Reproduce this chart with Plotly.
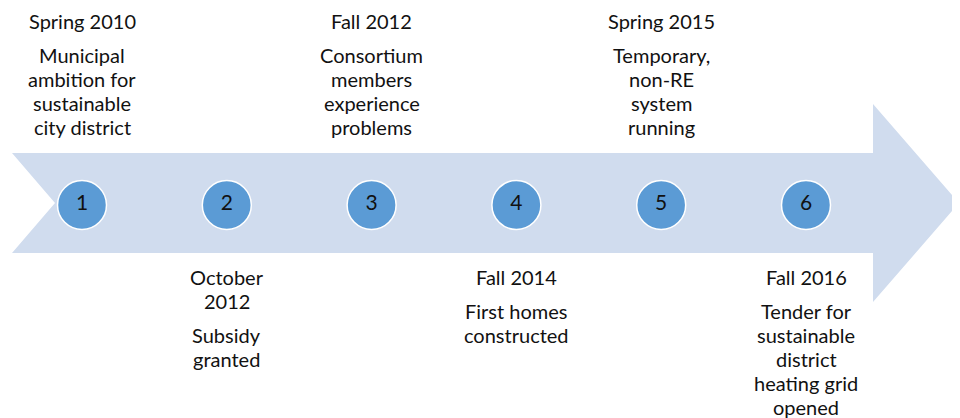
import plotly.graph_objects as go

# timeline data
steps = [1, 2, 3, 4, 5, 6]
dates = ["Spring 2010", "October<br>2012", "Fall 2012", "Fall 2014", "Spring 2015", "Fall 2016"]
events = [
    "Municipal<br>ambition for<br>sustainable<br>city district",
    "Subsidy<br>granted",
    "Consortium<br>members<br>experience<br>problems",
    "First homes<br>constructed",
    "Temporary,<br>non-RE<br>system<br>running",
    "Tender for<br>sustainable<br>district<br>heating grid<br>opened",
]
above = [True, False, True, False, True, False]

W, H = 960, 418
OFF = 8  # page body margin around the plot div
STEP_PX = 144.8
FIRST_PX = 82
x0 = 1 - FIRST_PX / STEP_PX
LINE = 24  # line height, px
GAP = 34   # date -> description


def sx(px):
    # pixel -> step units
    return x0 + px / STEP_PX


# arrow outline (pixels)
arrow = [(12, 153), (873, 153), (873, 104), (959, 203), (873, 302),
         (873, 253), (12, 253), (55, 203)]
path = "M " + " L ".join(f"{sx(x)},{y}" for x, y in arrow) + " Z"

font = "Lato, 'Open Sans', sans-serif"
fig = go.Figure()

fig.add_trace(go.Scatter(
    x=steps, y=[205] * len(steps), mode="markers+text",
    text=[str(s) for s in steps], textposition="middle center",
    textfont=dict(family=font, size=21, color="#111111"),
    marker=dict(size=49, color="#5B9BD5", line=dict(color="white", width=1.5)),
    hoverinfo="skip", showlegend=False,
))


def add_lines(x, y, lines):
    for i, ln in enumerate(lines):
        fig.add_annotation(x=x, y=y + i * LINE, text=ln, showarrow=False, yanchor="middle",
                           font=dict(family=font, size=20, color="#111111"))
    return y + (len(lines) - 1) * LINE


for s, d, e, up in zip(steps, dates, events, above):
    y = 21 if up else 277
    last = add_lines(s, y, d.split("<br>"))
    add_lines(s, last + GAP, e.split("<br>"))

fig.update_layout(
    width=W, height=H, margin=dict(l=0, r=0, t=0, b=0),
    paper_bgcolor="white", plot_bgcolor="white",
    shapes=[dict(type="path", path=path, fillcolor="#D0DCEE", line=dict(width=0), layer="below")],
    xaxis=dict(range=[sx(OFF), sx(W + OFF)], visible=False, fixedrange=True),
    yaxis=dict(range=[H + OFF, OFF], visible=False, fixedrange=True),
)

fig.write_html("out.html")
